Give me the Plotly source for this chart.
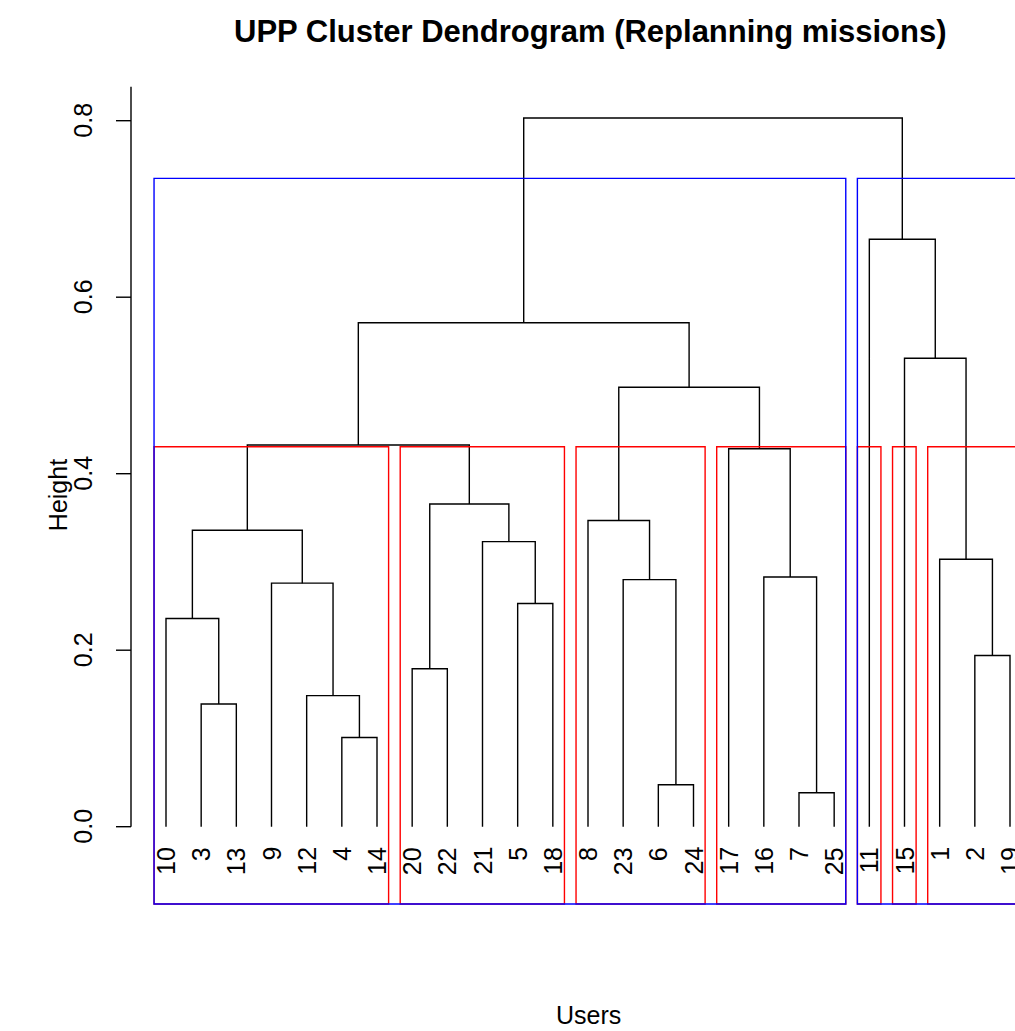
import plotly.graph_objects as go

# ---------------- data ----------------
leaf_labels = ["10", "3", "13", "9", "12", "4", "14", "20", "22", "21", "5", "18",
               "8", "23", "6", "24", "17", "16", "7", "25", "11", "15", "1", "2", "19"]

# hclust-style merges: negative = leaf position (1-based, in plotted order), positive = earlier merge step
merge_left = [-19, -15, -6, -2, -5, -8, -24, -1, -11, -4, -14, -18, -23, -10, 8, -13, 6, -17, 15, 16, -22, 19, -21, 22]
merge_right = [-20, -16, -7, -3, 3, -9, -25, 4, -12, 5, 2, 1, 7, 9, 10, 11, 14, 12, 17, 18, 13, 20, 21, 23]
merge_height = [0.0385, 0.0476, 0.101, 0.139, 0.1485, 0.179, 0.194, 0.236, 0.253, 0.276,
                0.280, 0.283, 0.303, 0.323, 0.336, 0.347, 0.3657, 0.4283, 0.4325, 0.498,
                0.5308, 0.571, 0.6656, 0.803]

# rect.hclust boxes
red_sizes = [7, 5, 4, 4, 1, 1, 3]      # k = 7
red_top = 0.4306
blue_sizes = [20, 5]                   # k = 2
blue_top = 0.7347

y_ticks = [0.0, 0.2, 0.4, 0.6, 0.8]
y_tick_text = ["0.0", "0.2", "0.4", "0.6", "0.8"]

title_text = "UPP Cluster Dendrogram (Replanning missions)"
x_title = "Users"
y_title = "Height"

# ---------------- geometry ----------------
W, H = 1015, 1031
px_per_leaf = 35.1667
leaf1_px = 166.0
y0_px = 826.7
px_per_unit = 882.5


def px_to_x(p):
    return 1 + (p - leaf1_px) / px_per_leaf


def px_to_y(q):
    return (y0_px - q) / px_per_unit


x_range = [px_to_x(0), px_to_x(W)]
y_range = [px_to_y(H), px_to_y(0)]
usr_bottom = px_to_y(904)
usr_top = px_to_y(86.7)
axis_x = px_to_x(131)
tick_x0 = px_to_x(116)
tick_lab_x = px_to_x(99)

FONT = "Liberation Sans, Arial, Helvetica, sans-serif"

# ---------------- dendrogram segments ----------------
node_x = {}
node_h = {}


def child_pos(c):
    if c < 0:
        return float(-c), 0.0
    return node_x[c], node_h[c]


xs, ys = [], []
for i, (l, r, h) in enumerate(zip(merge_left, merge_right, merge_height), start=1):
    xl, hl = child_pos(l)
    xr, hr = child_pos(r)
    xs += [xl, xl, xr, xr, None]
    ys += [hl, h, h, hr, None]
    node_x[i] = (xl + xr) / 2
    node_h[i] = h

fig = go.Figure()
fig.add_trace(go.Scatter(x=xs, y=ys, mode="lines",
                         line=dict(color="black", width=1.4),
                         hoverinfo="skip", showlegend=False))
# helper subplot that only carries the rotated "Height" axis title
fig.add_trace(go.Scatter(x=[None], y=[None], xaxis="x2", yaxis="y2",
                         hoverinfo="skip", showlegend=False))


def add_boxes(sizes, top, color):
    m = [0]
    for s in sizes:
        m.append(m[-1] + s)
    for j in range(len(sizes)):
        fig.add_shape(type="rect", xref="x", yref="y",
                      x0=m[j] + 0.66, x1=m[j + 1] + 0.33,
                      y0=usr_bottom, y1=top,
                      line=dict(color=color, width=1.4), fillcolor="rgba(0,0,0,0)")


add_boxes(red_sizes, red_top, "red")
add_boxes(blue_sizes, blue_top, "blue")

# y axis (R style)
fig.add_shape(type="line", xref="x", yref="y", x0=axis_x, x1=axis_x,
              y0=y_ticks[0], y1=usr_top, line=dict(color="black", width=1.4))
for v, t in zip(y_ticks, y_tick_text):
    fig.add_shape(type="line", xref="x", yref="y", x0=tick_x0, x1=axis_x,
                  y0=v, y1=v, line=dict(color="black", width=1.4))
    fig.add_annotation(x=tick_lab_x, y=v, xref="x", yref="y", text=t, showarrow=False,
                       textangle=-90, xanchor="right", yanchor="middle",
                       font=dict(size=25, color="black", family=FONT))

# leaf labels
label_y = px_to_y(845)
for i, lab in enumerate(leaf_labels, start=1):
    fig.add_annotation(x=i, y=label_y, xref="x", yref="y", text=lab, showarrow=False,
                       textangle=-90, xanchor="center", yanchor="top",
                       font=dict(size=25, color="black", family=FONT))

# titles
fig.add_annotation(x=px_to_x(590), y=px_to_y(31), xref="x", yref="y",
                   text="<b>" + title_text + "</b>",
                   showarrow=False, xanchor="center", yanchor="middle",
                   font=dict(size=31, color="black", family=FONT))
fig.add_annotation(x=px_to_x(588), y=px_to_y(1015), xref="x", yref="y", text=x_title,
                   showarrow=False, xanchor="center", yanchor="middle",
                   font=dict(size=25, color="black", family=FONT))

title_center_paper = 1 - 495 / H
fig.update_layout(width=W, height=H, margin=dict(l=0, r=0, t=0, b=0),
                  paper_bgcolor="white", plot_bgcolor="rgba(0,0,0,0)", showlegend=False,
                  xaxis=dict(range=x_range, visible=False, fixedrange=True, domain=[0, 1]),
                  yaxis=dict(range=y_range, visible=False, fixedrange=True, domain=[0, 1]),
                  xaxis2=dict(domain=[76 / W, 80 / W], anchor="y2", visible=False,
                              fixedrange=True, range=[0, 1]),
                  yaxis2=dict(domain=[title_center_paper - 0.3, title_center_paper + 0.3],
                              anchor="x2", range=[0, 1], fixedrange=True,
                              showticklabels=False, ticks="", showline=False,
                              showgrid=False, zeroline=False,
                              title=dict(text=y_title, standoff=0,
                                         font=dict(size=25, color="black", family=FONT))))

fig.write_html("out.html")
